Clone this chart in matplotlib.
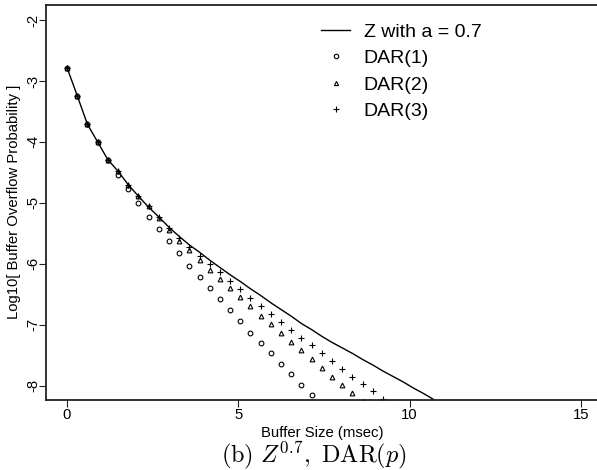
import numpy as np
import matplotlib
matplotlib.use("Agg")
import matplotlib.pyplot as plt
from matplotlib.lines import Line2D

plt.rcParams['font.family'] = ['Liberation Sans', 'DejaVu Sans']
plt.rcParams['mathtext.fontset'] = 'cm'

# buffer sizes (msec) sampled on a regular grid
step = 0.2975
z_logp = [-2.78, -3.24, -3.71, -4.00, -4.29, -4.48, -4.70, -4.89, -5.07, -5.23,
          -5.40, -5.55, -5.69, -5.81, -5.94, -6.06, -6.18, -6.29, -6.41, -6.52,
          -6.64, -6.75, -6.86, -6.98, -7.08, -7.19, -7.29, -7.38, -7.47, -7.57,
          -7.66, -7.76, -7.85, -7.94, -8.04, -8.13, -8.23, -8.32]
dar1_logp = [-2.78, -3.24, -3.71, -4.00, -4.30, -4.55, -4.78, -5.00, -5.24, -5.43,
             -5.62, -5.83, -6.04, -6.22, -6.40, -6.58, -6.76, -6.94, -7.13, -7.30,
             -7.47, -7.64, -7.81, -7.99, -8.16]
dar2_logp = [-2.78, -3.24, -3.71, -4.00, -4.29, -4.48, -4.71, -4.88, -5.06, -5.25,
             -5.44, -5.62, -5.78, -5.94, -6.10, -6.25, -6.40, -6.55, -6.70, -6.85,
             -6.99, -7.14, -7.28, -7.42, -7.57, -7.715, -7.85, -7.99, -8.125, -8.25]
dar3_logp = [-2.78, -3.24, -3.71, -4.00, -4.29, -4.48, -4.70, -4.88, -5.05, -5.23,
             -5.42, -5.58, -5.73, -5.87, -6.00, -6.14, -6.28, -6.42, -6.556, -6.69,
             -6.82, -6.95, -7.09, -7.21, -7.34, -7.47, -7.60, -7.73, -7.85, -7.97,
             -8.09, -8.22]

x_ticks = [0, 5, 10, 15]
y_ticks = [-2, -3, -4, -5, -6, -7, -8]
legend_labels = ["Z with a = 0.7", "DAR(1)", "DAR(2)", "DAR(3)"]


def grid(vals):
    return np.arange(len(vals)) * step


W, H = 597, 470
fig = plt.figure(figsize=(W / 100, H / 100), dpi=100)
ax = fig.add_axes([46 / W, 1 - 400 / H, 1 - 46 / W, (400 - 5) / H])

frame_col = '#222222'
ax.plot(grid(z_logp), z_logp, color='black', lw=1.0)
ax.plot(grid(dar1_logp), dar1_logp, ls='none', marker='o', ms=3.4,
        mfc='none', mec='black', mew=0.8)
ax.plot(grid(dar2_logp), dar2_logp, ls='none', marker='^', ms=3.4,
        mfc='none', mec='black', mew=0.8)
ax.plot(grid(dar3_logp), dar3_logp, ls='none', marker='+', ms=4.5,
        mec='black', mew=0.8)

ax.set_xlim(-0.613, 15.47)
ax.set_ylim(-8.235, -1.754)
ax.set_xticks(x_ticks)
ax.set_yticks(y_ticks)
ax.set_xticklabels([str(t) for t in x_ticks], fontsize=10.7)
ax.set_yticklabels([str(t) for t in y_ticks], fontsize=10.7, rotation=90,
                   va='center')
ax.tick_params(direction='out', length=5, width=0.8, colors=frame_col,
               labelcolor='black')
ax.tick_params(axis='x', pad=1)
ax.tick_params(axis='y', pad=-1)
for side in ['left', 'bottom', 'top']:
    ax.spines[side].set_color(frame_col)
    ax.spines[side].set_linewidth(1.3)
ax.spines['right'].set_visible(False)

fig.text(322 / W, 1 - 433 / H, "Buffer Size (msec)", fontsize=10.7,
         ha='center', va='center')
fig.text(14 / W, 1 - 202 / H, "Log10[ Buffer Overflow Probability ]",
         fontsize=10.7, rotation=90, ha='center', va='center')
fig.text(314 / W, 1 - 455 / H,
         r'$\mathrm{(b)}\ Z^{0.7},\ \mathrm{DAR}(p)$',
         fontsize=17.5, ha='center', va='center')

handles = [
    Line2D([], [], color='black', lw=1.0),
    Line2D([], [], ls='none', marker='o', ms=3.2, mfc='none', mec='black', mew=0.8),
    Line2D([], [], ls='none', marker='^', ms=3.0, mfc='none', mec='black', mew=0.8),
    Line2D([], [], ls='none', marker='+', ms=4.0, mec='black', mew=0.8),
]
ax.legend(handles, legend_labels, loc='upper left',
          bbox_to_anchor=(321 / W, 1 - 23 / H), bbox_transform=fig.transFigure,
          frameon=False, fontsize=14, handlelength=1.5, handletextpad=0.7,
          labelspacing=0.46, borderpad=0, borderaxespad=0)

fig.savefig("out.png", dpi=100)
